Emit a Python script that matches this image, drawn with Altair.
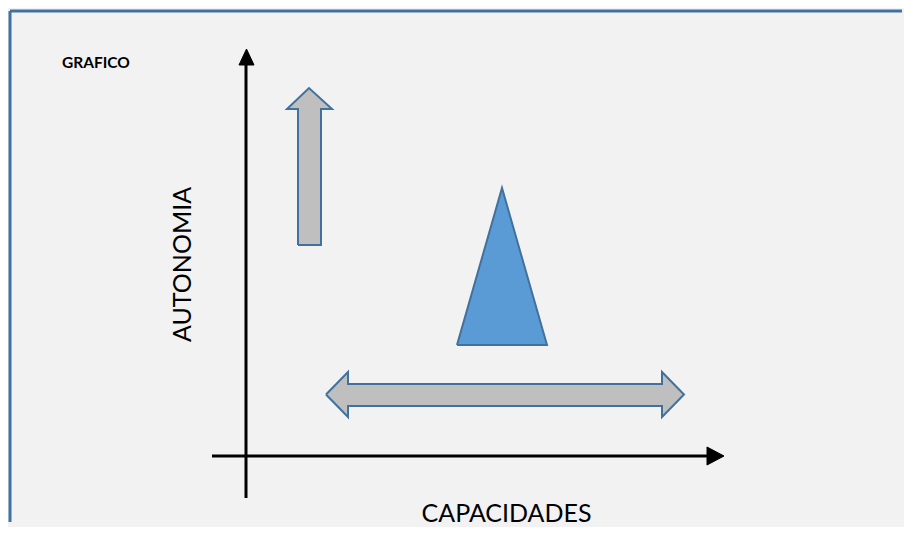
import altair as alt
import pandas as pd

# Canvas mapping (reference pixel coordinates)
X0, W = 8, 894
Y0, H = 8, 514

# Frame
frame_left_x = [10]
frame_top_y = [11]

# Axis lines
v_axis = dict(x=246, y1=64, y2=498)
h_axis = dict(y=456, x1=212, x2=708)

# Arrowheads of axes (polygons)
vhead_x = [239, 254, 246.5, 239]
vhead_y = [65, 65, 49, 65]
hhead_x = [707, 707, 724, 707]
hhead_y = [447, 465, 456, 447]

# Up block arrow
up_x = [298, 298, 287, 309, 332, 321, 321, 298]
up_y = [245, 109, 109, 88, 109, 109, 245, 245]

# Double block arrow
dbl_x = [326, 348, 348, 662, 662, 684, 662, 662, 348, 348, 326]
dbl_y = [394.5, 372, 384, 384, 372, 394.5, 417, 406, 406, 417, 394.5]

# Triangle
tri_x = [457, 502, 547, 457]
tri_y = [345, 188, 345, 345]

# Texts
title_text = ["GRAFICO"]
xlabel = ["CAPACIDADES"]
ylabel = ["AUTONOMIA"]

xs = alt.Scale(domain=[X0, X0 + W], range=[0, W], nice=False, zero=False)
ys = alt.Scale(domain=[Y0, Y0 + H], range=[0, H], nice=False, zero=False)

def poly(name, xv, yv):
    return pd.DataFrame({"shape": name, "i": list(range(len(xv))), "x": xv, "y": yv})

def poly_layer(df, fill, stroke, sw):
    return alt.Chart(df).mark_line(fill=fill, stroke=stroke, strokeWidth=sw, strokeJoin="miter").encode(
        x=alt.X("x:Q", scale=xs, axis=None),
        y=alt.Y("y:Q", scale=ys, axis=None),
        detail="shape:N",
        order="i:Q",
    )

frame_df = pd.DataFrame({"x": frame_left_x, "y": frame_top_y, "xe": [X0 + W], "ye": [Y0 + H]})
frame_left = alt.Chart(frame_df).mark_rule(color="#41719c", strokeWidth=3).encode(
    x=alt.X("x:Q", scale=xs, axis=None), y=alt.Y("y:Q", scale=ys, axis=None), y2="ye:Q")
frame_top = alt.Chart(frame_df).mark_rule(color="#41719c", strokeWidth=3).encode(
    x=alt.X("x:Q", scale=xs, axis=None), x2="xe:Q", y=alt.Y("y:Q", scale=ys, axis=None))

vdf = pd.DataFrame({"x": [v_axis["x"]], "y": [v_axis["y1"]], "y2": [v_axis["y2"]]})
hdf = pd.DataFrame({"x": [h_axis["x1"]], "x2": [h_axis["x2"]], "y": [h_axis["y"]]})
vline = alt.Chart(vdf).mark_rule(color="black", strokeWidth=3).encode(
    x=alt.X("x:Q", scale=xs, axis=None), y=alt.Y("y:Q", scale=ys, axis=None), y2="y2:Q")
hline = alt.Chart(hdf).mark_rule(color="black", strokeWidth=3).encode(
    x=alt.X("x:Q", scale=xs, axis=None), x2="x2:Q", y=alt.Y("y:Q", scale=ys, axis=None))

heads = pd.concat([poly("vh", vhead_x, vhead_y), poly("hh", hhead_x, hhead_y)])
blocks = pd.concat([poly("up", up_x, up_y), poly("dbl", dbl_x, dbl_y)])
tri = poly("tri", tri_x, tri_y)

head_layer = poly_layer(heads, "black", "black", 1)
block_layer = poly_layer(blocks, "#bfbfbf", "#41719c", 2)
tri_layer = poly_layer(tri, "#5b9bd5", "#41719c", 2)

t1 = alt.Chart(pd.DataFrame({"t": title_text, "x": [62], "y": [68]})).mark_text(
    align="left", baseline="alphabetic", font="Lato", fontWeight="bold", fontSize=15.5, color="black"
).encode(x=alt.X("x:Q", scale=xs, axis=None), y=alt.Y("y:Q", scale=ys, axis=None), text="t:N")
t2 = alt.Chart(pd.DataFrame({"t": xlabel, "x": [506.5], "y": [522]})).mark_text(
    align="center", baseline="alphabetic", font="Lato", fontSize=25, color="black"
).encode(x=alt.X("x:Q", scale=xs, axis=None), y=alt.Y("y:Q", scale=ys, axis=None), text="t:N")
t3 = alt.Chart(pd.DataFrame({"t": ylabel, "x": [191], "y": [264.5]})).mark_text(
    align="center", baseline="alphabetic", angle=270, font="Lato", fontSize=25, color="black"
).encode(x=alt.X("x:Q", scale=xs, axis=None), y=alt.Y("y:Q", scale=ys, axis=None), text="t:N")

chart = alt.layer(
    frame_left, frame_top, vline, hline, head_layer, block_layer, tri_layer, t1, t2, t3
).properties(width=W, height=H, padding=0, background="#f2f2f2").configure_view(
    stroke=None
)

chart.save("out.html", embed_options={"renderer": "svg", "actions": False})
